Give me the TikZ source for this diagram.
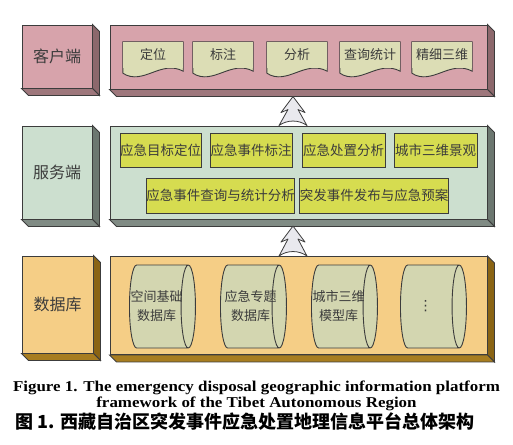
\documentclass[tikz,border=0pt]{standalone}
\usepackage{fontspec}
\setmainfont{Liberation Serif}
\newfontfamily\cjk{Noto Sans CJK SC}
\newfontfamily\capfont[FakeStretch=1.13]{Liberation Serif}
\newfontfamily\symfont{DejaVu Sans}
\usetikzlibrary{calc,shapes.geometric}
\definecolor{ink}{HTML}{3C3C3C}
\definecolor{cfront}{HTML}{D7A3AB}
\definecolor{cside}{HTML}{8C686C}
\definecolor{cbot}{HTML}{9E777C}
\definecolor{docfill}{HTML}{DCDDB5}
\definecolor{sfront}{HTML}{CCDFCF}
\definecolor{sside}{HTML}{6C7770}
\definecolor{sbot}{HTML}{808B84}
\definecolor{svcfill}{HTML}{D6DC50}
\definecolor{dfront}{HTML}{F5CE86}
\definecolor{dside}{HTML}{8A6414}
\definecolor{dbot}{HTML}{A87D20}
\definecolor{storefill}{HTML}{D3D6B0}
\definecolor{upfill}{HTML}{E9E9EE}

\begin{document}
\begin{tikzpicture}[x=1pt, y=-1pt,
	outline/.style={draw=ink, line width=0.9pt},
	layer/.style 2 args={outline, inner sep=0pt, text=ink,
		font=\cjk\fontsize{16}{18}\selectfont,
		append after command={\pgfextra{
			\filldraw[outline, fill=#1] (\tikzlastnode.north east) -- ++(7,7)
				-- ($(\tikzlastnode.south east)+(7,7)$) -- (\tikzlastnode.south east) -- cycle;
			\filldraw[outline, fill=#2] (\tikzlastnode.south west) -- ++(7,7)
				-- ($(\tikzlastnode.south east)+(7,7)$) -- (\tikzlastnode.south east) -- cycle;
		}}},
	docnote/.style={fill=docfill, minimum width=60pt, minimum height=26pt, inner sep=0pt,
		text=ink, font=\cjk\fontsize{13}{15}\selectfont,
		append after command={\pgfextra{
			\fill[docfill] ($(\tikzlastnode.south west)+(0,5)$)
				.. controls ($(\tikzlastnode.south west)+(20,18)$) and ($(\tikzlastnode.south east)+(-22,-9)$)
				.. ($(\tikzlastnode.south east)+(0,3)$) -- (\tikzlastnode.south east)
				-- (\tikzlastnode.south west) -- cycle;
			\draw[outline] ($(\tikzlastnode.south west)+(0,5)$) -- (\tikzlastnode.north west)
				-- (\tikzlastnode.north east) -- ($(\tikzlastnode.south east)+(0,3)$)
				.. controls ($(\tikzlastnode.south east)+(-22,-9)$) and ($(\tikzlastnode.south west)+(20,18)$)
				.. ($(\tikzlastnode.south west)+(0,5)$);
		}}},
	svc/.style={outline, fill=svcfill, minimum height=34pt, inner sep=0pt, text=ink,
		font=\cjk\fontsize{13.5}{15}\selectfont},
	store/.style={cylinder, outline, fill=storefill, aspect=0.36, inner xsep=0pt, inner ysep=20pt,
		minimum width=83pt, minimum height=66pt, anchor=west},
	storetext/.style={align=center, text=ink, anchor=west, xshift=1.5pt, inner sep=0pt,
		font=\cjk\fontsize{13}{19}\selectfont},
	treearrow/.style={outline, fill=upfill, line width=0.8pt, line join=round}]
	\useasboundingbox (0,0) rectangle (513,444);

	\node [layer={cside}{cbot}, fill=cfront, minimum width=70pt, minimum height=63pt] (clabel) at (57,56.5) {客户端};
	\node [layer={cside}{cbot}, fill=cfront, minimum width=377pt, minimum height=64pt] (cmain) at (298.5,57) {};
	\node [docnote] (dingwei) at (153,55) {定位};
	\node [docnote] (biaozhu) at (223,55) {标注};
	\node [docnote] (fenxi) at (297,55) {分析};
	\node [docnote] (chaxun) at (370,55) {查询统计};
	\node [docnote] (jingxi) at (442,55) {精细三维};

	\node [layer={sside}{sbot}, fill=sfront, minimum width=70pt, minimum height=93pt] (slabel) at (57,172.5) {服务端};
	\node [layer={sside}{sbot}, fill=sfront, minimum width=377pt, minimum height=93pt] (smain) at (298.5,172.5) {};
	\node [svc, minimum width=81pt] (mbdw) at (160.5,150) {应急目标定位};
	\node [svc, minimum width=82pt] (sjbz) at (251,150) {应急事件标注};
	\node [svc, minimum width=83pt] (czfx) at (343.5,150) {应急处置分析};
	\node [svc, minimum width=83pt] (swjg) at (435.5,150) {城市三维景观};
	\node [svc, minimum width=141pt, minimum height=35pt] (cxtj) at (220.5,195.5) {应急事件查询与统计分析};
	\node [svc, minimum width=138pt, minimum height=35pt] (fbya) at (374,195.5) {突发事件发布与应急预案};

	\node [layer={dside}{dbot}, fill=dfront, minimum width=71pt, minimum height=97pt] (dlabel) at (57.5,304.5) {数据库};
	\node [layer={dside}{dbot}, fill=dfront, minimum width=377pt, minimum height=98pt] (dmain) at (298.5,305.5) {};
	\node [store, label={[storetext]west:{空间基础\\数据库}}] (kjjc) at (129,306.5) {};
	\node [store, label={[storetext, xshift=3pt]west:{应急专题\\数据库}}] (yjzt) at (220,306.5) {};
	\node [store, label={[storetext]west:{城市三维\\模型库}}] (cssw) at (311,306.5) {};
	\node [store, label={[storetext, anchor=center, xshift=24pt, font=\symfont\fontsize{14}{16}\selectfont]west:⋮}] (more) at (400,306.5) {};

	\path (smain.north) ++(-5.5,0) coordinate (up1);
	\path (dmain.north) ++(-5.5,0) coordinate (up2);
	\draw [treearrow, shift={(up1)}] (0,-29) -- (-12,-13) -- (-5,-16) -- (-14,0)
		.. controls (-6,-6) and (6,-6) .. (14,0) -- (5,-16) -- (12,-13) -- cycle;
	\draw [treearrow, shift={(up2)}] (0,-30) -- (-12,-14) -- (-5,-17) -- (-14,0)
		.. controls (-6,-6) and (6,-6) .. (14,0) -- (5,-17) -- (12,-14) -- cycle;

	\node [font=\capfont\bfseries\fontsize{15}{16}\selectfont, align=center] (capen) at (256.5,396)
		{Figure 1. The emergency disposal geographic information platform\\framework of the Tibet Autonomous Region};
	\node [font=\cjk\bfseries\fontsize{18}{20}\selectfont] (capzh) at (245,422)
		{图 1. 西藏自治区突发事件应急处置地理信息平台总体架构};
\end{tikzpicture}
\end{document}
